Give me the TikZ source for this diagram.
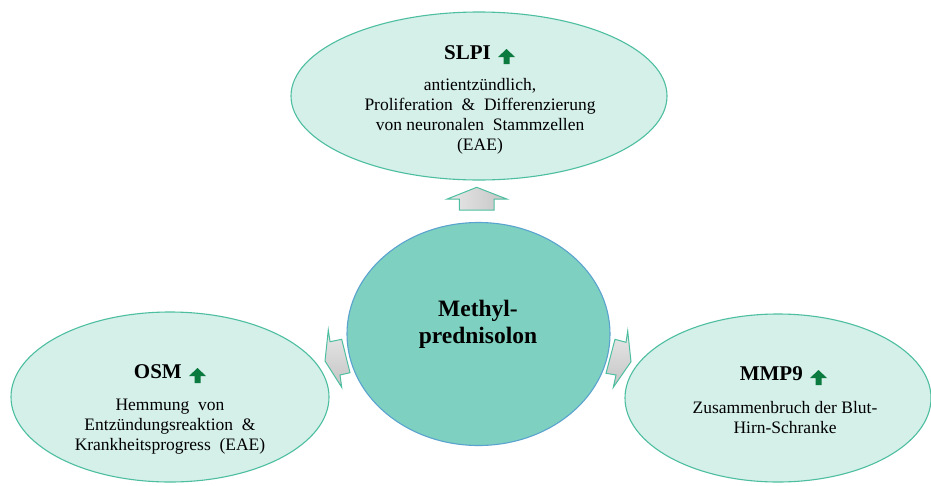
\documentclass[tikz,border=0pt]{standalone}
\usepackage{fontspec}
\setmainfont{Liberation Serif}
\usetikzlibrary{shapes.geometric,calc}
\definecolor{lightfill}{HTML}{D5EFE9}
\definecolor{lightline}{HTML}{4DBFA0}
\definecolor{midfill}{HTML}{7ED0C0}
\definecolor{midline}{HTML}{5BA3CF}
\definecolor{upgreen}{HTML}{0B7A3E}
\definecolor{arrlight}{HTML}{E8E8E8}
\definecolor{arrdark}{HTML}{C4C4C4}
\tikzset{
  outerell/.style={ellipse, draw=lightline, fill=lightfill, line width=1.1pt, inner sep=0pt},
  midell/.style={ellipse, draw=midline, fill=midfill, line width=1.1pt, inner sep=0pt},
  bodytxt/.style={anchor=base, inner sep=0pt, font=\fontsize{17.5}{20}\selectfont},
  titletxt/.style={anchor=base east, inner sep=0pt, font=\fontsize{21}{24}\selectfont\bfseries},
  midtxt/.style={anchor=base, inner sep=0pt, font=\fontsize{23.5}{27}\selectfont\bfseries},
  blockarrow/.style={draw=lightline, line width=1pt, line join=miter},
  greenup/.style={fill=upgreen},
  greenarrow/.pic={\fill[greenup] (15.5,-10) -- (24,-2) -- (18.5,-2) -- (18.5,5) -- (12.5,5) -- (12.5,-2) -- (7,-2) -- cycle;}
}
\begin{document}
\begin{tikzpicture}[x=1pt,y=-1pt]
\useasboundingbox (0,0) rectangle (931,485);
\fill[white] (0,0) rectangle (931,485);

% ellipses
\node[outerell, minimum width=376pt, minimum height=168pt] (slpi) at (479,96) {};
\node[midell, minimum width=263pt, minimum height=223pt] (methyl) at (478.5,334) {};
\node[outerell, minimum width=318pt, minimum height=170pt] (osm) at (170,397) {};
\node[outerell, minimum width=306pt, minimum height=168pt] (mmp) at (778,398) {};

% block arrows
\draw[blockarrow, left color=arrlight, right color=arrdark]
  (476.7,187.3) -- (506.7,199) -- (494,199) -- (494,210) -- (459.3,210) -- (459.3,199) -- (447.3,199) -- cycle;
\draw[blockarrow, top color=arrlight, bottom color=arrdark]
  (325,361) -- (328.3,330) -- (330,341.7) -- (341.7,339.3) -- (350,372.7) -- (340,375) -- (341.7,387.3) -- cycle;
\draw[blockarrow, top color=arrlight, bottom color=arrdark]
  (631,361.7) -- (627.7,331) -- (626,342.3) -- (615,339.3) -- (606,373.3) -- (616,375) -- (613.3,387.3) -- cycle;

% SLPI texts
\node[titletxt] (slpiT) at (491,59) {SLPI};
\pic at (slpiT.base east) {greenarrow};
\node[bodytxt] (slpi1) at (480,90) {antientzündlich,};
\node[bodytxt] (slpi2) at (480,110) {Proliferation\ \ \&\ \ Differenzierung};
\node[bodytxt] (slpi3) at (480,130) {von neuronalen\ \ Stammzellen};
\node[bodytxt] (slpi4) at (480,150) {(EAE)};

% Methylprednisolon
\node[midtxt] (meth1) at (478,316) {Methyl-};
\node[midtxt] (meth2) at (478,343) {prednisolon};

% OSM texts
\node[titletxt] (osmT) at (182,378) {OSM};
\pic at (osmT.base east) {greenarrow};
\node[bodytxt] (osm1) at (170,410) {Hemmung\ \ von};
\node[bodytxt] (osm2) at (170,430) {Entzündungsreaktion\ \ \&};
\node[bodytxt] (osm3) at (170,450) {Krankheitsprogress\ \ (EAE)};

% MMP9 texts
\node[titletxt] (mmpT) at (803,380) {MMP9};
\pic at (mmpT.base east) {greenarrow};
\node[bodytxt] (mmp1) at (785,413) {Zusammenbruch der Blut-};
\node[bodytxt] (mmp2) at (785,433) {Hirn-Schranke};
\end{tikzpicture}
\end{document}
